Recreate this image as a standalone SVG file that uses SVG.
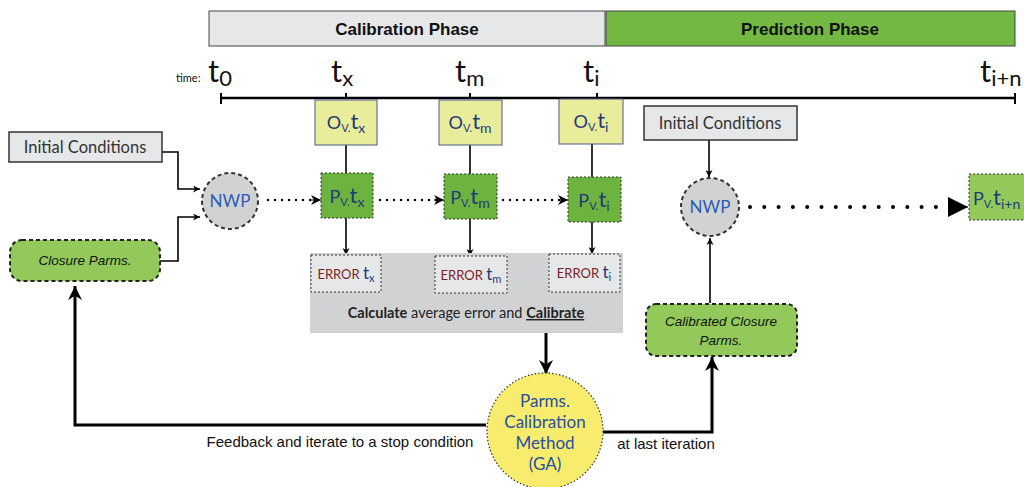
<svg xmlns="http://www.w3.org/2000/svg" width="1024" height="487" viewBox="0 0 1024 487">
<style>
.phase{font-family:"Liberation Sans",sans-serif;font-weight:bold;font-size:17px;fill:#111;text-anchor:middle}
.gill{font-family:Lato,"Open Sans",sans-serif}
.big{font-family:Lato,sans-serif;font-size:31px;fill:#111}
.obox{fill:#e9ec9a;stroke:#4a5a8a;stroke-width:1}
.pbox{fill:#6db33f;stroke:#333;stroke-width:1;stroke-dasharray:2 2}
.pbox2{fill:#92c95a;stroke:#333;stroke-width:1;stroke-dasharray:2 2}
.nav{font-family:Lato,sans-serif;font-size:18px;fill:#1f3a7a;text-anchor:middle}
.err{fill:#e6e7e8;stroke:#333;stroke-width:1;stroke-dasharray:2 2}
.errt{font-family:Lato,sans-serif;font-size:13px;fill:#7a1f1f;text-anchor:middle}
.nwp{fill:#d1d2d4;stroke:#333;stroke-width:2;stroke-dasharray:4 3}
.nwpt{font-family:Lato,sans-serif;font-size:17px;fill:#2a5db0;text-anchor:middle}
.ic{fill:#e6e7e8;stroke:#333;stroke-width:1.5}
.ict{font-family:Lato,sans-serif;font-size:16.5px;fill:#333;text-anchor:middle}
.cp{fill:#92c95a;stroke:#222;stroke-width:2;stroke-dasharray:4 3}
.cpt{font-family:"Liberation Sans",sans-serif;font-style:italic;font-size:13.5px;fill:#111;text-anchor:middle}
.cm{font-family:"Liberation Sans",sans-serif;font-size:15px;fill:#111;text-anchor:middle}
.ln{stroke:#000;stroke-width:1.6;fill:none}
.thick{stroke:#000;stroke-width:3;fill:none}
.dot{stroke:#000;stroke-width:2.5;fill:none;stroke-dasharray:0 7;stroke-linecap:round}
</style>
<defs>
<marker id="ah" viewBox="0 0 10 10" refX="10" refY="5" markerWidth="7" markerHeight="7" markerUnits="userSpaceOnUse" orient="auto"><path d="M0,0 L10,5 L0,10 L3,5 z" fill="#000"/></marker>
<marker id="ahs" viewBox="0 0 10 10" refX="10" refY="5" markerWidth="10" markerHeight="10" markerUnits="userSpaceOnUse" orient="auto"><path d="M0,0 L10,5 L0,10 L3,5 z" fill="#000"/></marker>
<marker id="ahb" viewBox="0 0 10 10" refX="10" refY="5" markerWidth="14" markerHeight="14" markerUnits="userSpaceOnUse" orient="auto"><path d="M0,0 L10,5 L0,10 L3,5 z" fill="#000"/></marker>
<marker id="aht" viewBox="0 0 10 10" refX="10" refY="5" markerWidth="20" markerHeight="20" markerUnits="userSpaceOnUse" orient="auto"><path d="M0,0 L10,5 L0,10 z" fill="#000"/></marker>
</defs>
<rect width="1024" height="487" fill="#fff"/>

<g id="calibration-phase">
<rect x="209" y="11" width="396" height="35" fill="#e6e7e8" stroke="#444" stroke-width="1"/>
<text class="phase" x="407" y="35">Calibration Phase</text>
</g>
<g id="prediction-phase">
<rect x="606" y="11" width="409" height="35" fill="#72b843" stroke="#444" stroke-width="1"/>
<text class="phase" x="810" y="35">Prediction Phase</text>
</g>

<g id="timeline">
<line x1="221" y1="98" x2="1015" y2="98" stroke="#000" stroke-width="2.5"/>
<line x1="221" y1="93" x2="221" y2="104" stroke="#000" stroke-width="2"/>
<line x1="346" y1="93" x2="346" y2="98" stroke="#000" stroke-width="2"/>
<line x1="470" y1="93" x2="470" y2="98" stroke="#000" stroke-width="2"/>
<line x1="597" y1="93" x2="597" y2="98" stroke="#000" stroke-width="2"/>
<line x1="1015" y1="93" x2="1015" y2="104" stroke="#000" stroke-width="2"/>
<text x="176" y="82" font-family="Lato,sans-serif" font-size="11" fill="#111">time:</text>
<text class="big" x="208" y="82">t<tspan font-size="22" dy="4">0</tspan></text>
<text class="big" x="331" y="82">t<tspan font-size="22" dy="4">x</tspan></text>
<text class="big" x="455" y="82">t<tspan font-size="22" dy="4">m</tspan></text>
<text class="big" x="583" y="82">t<tspan font-size="22" dy="4">i</tspan></text>
<text class="big" x="980" y="82">t<tspan font-size="22" dy="4">i+n</tspan></text>
</g>

<g id="connectors">
<polyline class="ln" points="162,152 178,152 178,189 200,189" marker-end="url(#ah)"/>
<polyline class="ln" points="160,261 178,261 178,217 200,217" marker-end="url(#ah)"/>
<line class="ln" x1="346" y1="145" x2="346" y2="173"/>
<line class="ln" x1="470" y1="145" x2="470" y2="174"/>
<line class="ln" x1="592" y1="144" x2="592" y2="177"/>
<line class="ln" x1="346" y1="218" x2="346" y2="255" marker-end="url(#ah)"/>
<line class="ln" x1="470" y1="219" x2="470" y2="256" marker-end="url(#ah)"/>
<line class="ln" x1="592" y1="222" x2="592" y2="254" marker-end="url(#ah)"/>
<line class="dot" x1="268" y1="200" x2="314" y2="200"/>
<line x1="310" y1="200" x2="321" y2="200" stroke="#000" stroke-width="1" marker-end="url(#ahs)"/>
<line class="dot" x1="380" y1="200" x2="437" y2="200"/>
<line x1="434" y1="200" x2="444" y2="200" stroke="#000" stroke-width="1" marker-end="url(#ahs)"/>
<line class="dot" x1="503" y1="200" x2="561" y2="200"/>
<line x1="558" y1="200" x2="568" y2="200" stroke="#000" stroke-width="1" marker-end="url(#ahs)"/>
<line class="thick" x1="546" y1="333" x2="546" y2="374" marker-end="url(#ahb)"/>
<polyline class="thick" points="486,425 75,425 75,286" marker-end="url(#ahb)"/>
<polyline class="thick" points="603,432 712,432 712,357" marker-end="url(#ahb)"/>
<line class="ln" x1="710" y1="303" x2="710" y2="238" marker-end="url(#ah)"/>
<line class="ln" x1="709" y1="140" x2="709" y2="177" marker-end="url(#ah)"/>
<line x1="750" y1="207" x2="950" y2="207" stroke="#000" stroke-width="4" stroke-dasharray="0 14.3" stroke-linecap="round"/>
<line x1="950" y1="207" x2="968" y2="207" stroke="#000" stroke-width="1" marker-end="url(#aht)"/>
</g>

<g id="initial-conditions-left">
<rect class="ic" x="9" y="132" width="153" height="30"/>
<text class="ict" x="85" y="153">Initial Conditions</text>
</g>
<g id="closure-parms">
<rect class="cp" x="10" y="240" width="150" height="41" rx="12"/>
<text class="cpt" x="85" y="265">Closure Parms.</text>
</g>
<g id="nwp-left">
<circle class="nwp" cx="230" cy="201" r="28"/>
<text class="nwpt" x="230" y="207">NWP</text>
</g>

<g id="ov-tx">
<rect class="obox" x="315" y="100" width="62" height="45"/>
<text class="nav" x="346" y="129">O<tspan font-size="11" dy="3">V.</tspan><tspan font-size="22" dy="-3">t</tspan><tspan font-size="14" dy="4">x</tspan></text>
</g>
<g id="ov-tm">
<rect class="obox" x="439" y="100" width="63" height="45"/>
<text class="nav" x="470" y="129">O<tspan font-size="11" dy="3">V.</tspan><tspan font-size="22" dy="-3">t</tspan><tspan font-size="14" dy="4">m</tspan></text>
</g>
<g id="ov-ti">
<rect class="obox" x="559" y="99" width="64" height="45"/>
<text class="nav" x="591" y="128">O<tspan font-size="11" dy="3">V.</tspan><tspan font-size="22" dy="-3">t</tspan><tspan font-size="14" dy="4">i</tspan></text>
</g>

<g id="pv-tx">
<rect class="pbox" x="321" y="173" width="52" height="45"/>
<text class="nav" x="347" y="203">P<tspan font-size="11" dy="3">V.</tspan><tspan font-size="22" dy="-3">t</tspan><tspan font-size="14" dy="4">x</tspan></text>
</g>
<g id="pv-tm">
<rect class="pbox" x="444" y="174" width="53" height="45"/>
<text class="nav" x="470" y="204">P<tspan font-size="11" dy="3">V.</tspan><tspan font-size="22" dy="-3">t</tspan><tspan font-size="14" dy="4">m</tspan></text>
</g>
<g id="pv-ti">
<rect class="pbox" x="568" y="177" width="53" height="45"/>
<text class="nav" x="594" y="207">P<tspan font-size="11" dy="3">V.</tspan><tspan font-size="22" dy="-3">t</tspan><tspan font-size="14" dy="4">i</tspan></text>
</g>

<g id="calculate-area">
<rect x="310" y="253" width="313" height="80" fill="#d1d2d4"/>
<text class="gill" x="466" y="318" font-size="14.5" fill="#222" text-anchor="middle"><tspan font-weight="bold">Calculate</tspan> average error and <tspan font-weight="bold" text-decoration="underline">Calibrate</tspan></text>
</g>
<g id="error-tx">
<rect class="err" x="311" y="255" width="70" height="37"/>
<text class="errt" x="346" y="279">ERROR <tspan fill="#1f3a7a" font-size="17">t</tspan><tspan fill="#1f3a7a" font-size="11" dy="3">x</tspan></text>
</g>
<g id="error-tm">
<rect class="err" x="435" y="256" width="72" height="37"/>
<text class="errt" x="471" y="280">ERROR <tspan fill="#1f3a7a" font-size="17">t</tspan><tspan fill="#1f3a7a" font-size="11" dy="3">m</tspan></text>
</g>
<g id="error-ti">
<rect class="err" x="549" y="254" width="71" height="38"/>
<text class="errt" x="584" y="278">ERROR <tspan fill="#1f3a7a" font-size="17">t</tspan><tspan fill="#1f3a7a" font-size="11" dy="3">i</tspan></text>
</g>

<g id="ga-method">
<circle cx="545" cy="431" r="58" fill="#f7ec6e" stroke="#333" stroke-width="1.2" stroke-dasharray="1.5 2"/>
<g font-family="Lato,sans-serif" font-size="17" fill="#2a4fa0" text-anchor="middle">
<text x="545" y="407">Parms.</text>
<text x="545" y="428">Calibration</text>
<text x="545" y="449">Method</text>
<text x="545" y="470">(GA)</text>
</g>
</g>

<g id="labels">
<text class="cm" x="340" y="447">Feedback and iterate to a stop condition</text>
<text class="cm" x="666" y="449">at last iteration</text>
</g>

<g id="initial-conditions-right">
<rect class="ic" x="644" y="106" width="153" height="34"/>
<text class="ict" x="720" y="129">Initial Conditions</text>
</g>
<g id="nwp-right">
<circle class="nwp" cx="710" cy="207" r="29"/>
<text class="nwpt" x="710" y="213">NWP</text>
</g>
<g id="calibrated-closure-parms">
<rect class="cp" x="646" y="304" width="151" height="52" rx="10"/>
<text class="cpt" x="721" y="326">Calibrated Closure</text>
<text class="cpt" x="721" y="345">Parms.</text>
</g>
<g id="pv-tin">
<rect class="pbox2" x="969" y="174" width="60" height="46"/>
<text class="nav" x="973" y="205" style="text-anchor:start">P<tspan font-size="11" dy="3">V.</tspan><tspan font-size="22" dy="-3">t</tspan><tspan font-size="14" dy="4">i+n</tspan></text>
</g>
</svg>
